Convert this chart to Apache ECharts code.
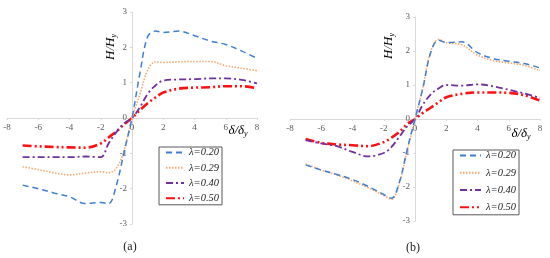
<!DOCTYPE html>
<html>
<head>
<meta charset="utf-8">
<script src="https://cdn.jsdelivr.net/npm/echarts@6/dist/echarts.min.js"></script>
<style>
  html, body { margin: 0; padding: 0; background: #fff; }
  #c1 { width: 550px; height: 258px; }
</style>
</head>
<body>
<div id="c1"></div>
<script>
// displacement ratio (shared by both panels)
var xs = [-7, -6, -5, -4, -3, -2, -1.5, -1, -0.5, 0, 0.5, 1, 1.5, 2, 3, 4, 5, 6, 7, 8];
var names = ["λ=0.20", "λ=0.29", "λ=0.40", "λ=0.50"];
var panelLabels = ["(a)", "(b)"];

// panel (a)
var a020 = [-1.9, -2.0, -2.12, -2.23, -2.42, -2.39, -2.43, -1.9, -0.95, 0, 1.25, 2.3, 2.46, 2.42, 2.46, 2.33, 2.18, 2.08, 1.9, 1.69];
var a029 = [-1.38, -1.46, -1.55, -1.61, -1.56, -1.52, -1.55, -1.42, -0.9, 0, 0.66, 1.35, 1.59, 1.57, 1.59, 1.6, 1.6, 1.48, 1.41, 1.34];
var a040 = [-1.11, -1.11, -1.11, -1.11, -1.09, -1.11, -0.72, -0.4, -0.15, 0, 0.3, 0.68, 0.92, 1.06, 1.09, 1.1, 1.12, 1.12, 1.08, 0.98];
var a050 = [-0.78, -0.8, -0.82, -0.83, -0.84, -0.72, -0.55, -0.38, -0.18, 0, 0.22, 0.42, 0.58, 0.72, 0.83, 0.86, 0.87, 0.9, 0.9, 0.84];

// panel (b)
var b020 = [-1.35, -1.5, -1.63, -1.78, -1.98, -2.22, -2.33, -1.86, -0.9, 0, 0.9, 1.95, 2.32, 2.25, 2.27, 1.95, 1.78, 1.7, 1.63, 1.5];
var b029 = [-1.32, -1.5, -1.65, -1.82, -2.02, -2.25, -2.36, -1.88, -0.92, 0, 0.92, 1.98, 2.34, 2.24, 2.18, 1.88, 1.72, 1.65, 1.58, 1.42];
var b040 = [-0.62, -0.72, -0.8, -0.97, -1.1, -1.0, -0.82, -0.52, -0.22, 0, 0.42, 0.72, 0.9, 1.0, 0.98, 1.02, 0.96, 0.86, 0.75, 0.62];
var b050 = [-0.59, -0.7, -0.75, -0.77, -0.8, -0.68, -0.55, -0.38, -0.15, 0, 0.18, 0.33, 0.49, 0.64, 0.74, 0.78, 0.78, 0.77, 0.7, 0.54];

var colors = ["#3f7fd3", "#f7a86e", "#7030a0", "#ff1010"];
var dashes = [[6, 4], [1.5, 1.5], [7, 3, 2, 3], [9, 3, 2, 3, 2, 3]];
var widths = [1.5, 1.6, 1.8, 2.6];

var myChart = echarts.init(document.getElementById("c1"));

function pairs(ys) {
  var res = [];
  for (var i = 0; i < xs.length; i++) res.push([xs[i], ys[i]]);
  return res;
}

var series = [];
[[a020, a029, a040, a050], [b020, b029, b040, b050]].forEach(function (set, p) {
  set.forEach(function (ys, k) {
    series.push({
      name: names[k],
      type: "line",
      xAxisIndex: p,
      yAxisIndex: p,
      smooth: 0.35,
      symbol: "none",
      data: pairs(ys),
      lineStyle: { color: colors[k], width: widths[k], type: dashes[k] },
      itemStyle: { color: colors[k] },
      z: 5 - k,
    });
  });
});

// grids: [left, right, top, bottom]
var grids = [[7, 293, 12, 34], [290, 10, 17, 37]];

var axisCommon = {
  type: "value",
  splitLine: { show: false },
  axisTick: { show: true, length: 2, lineStyle: { color: "#d9d9d9" } },
};
function lbl() {
  return { fontFamily: "Liberation Serif", fontSize: 9, color: "#595959", margin: 5 };
}

// axes sit at the zero lines, moved there with offset
function xAx(i) {
  var g = grids[i], h = 258 - g[2] - g[3];
  return Object.assign({}, axisCommon, {
    gridIndex: i, min: -8, max: 8, interval: 2, position: "bottom",
    offset: -h / 2,
    axisLine: { onZero: false, lineStyle: { color: "#d9d9d9", width: 1 } },
    axisLabel: lbl(),
  });
}
function yAx(i) {
  var g = grids[i], w = 550 - g[0] - g[1];
  return Object.assign({}, axisCommon, {
    gridIndex: i, min: -3, max: 3, interval: 1, position: "left",
    offset: -w / 2,
    axisLine: { onZero: false, lineStyle: { color: "#d9d9d9", width: 1 } },
    axisLabel: lbl(),
  });
}

var legendText = { fontFamily: "Liberation Serif", fontStyle: "italic", fontSize: 10.5, color: "#222" };
var hiddenSym = { color: "rgba(0,0,0,0)", borderColor: "rgba(0,0,0,0)", borderWidth: 0 };

var richH = {
  i: { fontFamily: "Liberation Serif", fontStyle: "italic", fontSize: 13, color: "#222" },
  s: { fontFamily: "Liberation Serif", fontStyle: "italic", fontSize: 8, color: "#222", padding: [6, 0, 0, 0] },
};
function axName(x, y, text, rot) {
  return {
    type: "text", x: x, y: y, rotation: rot,
    style: { text: text, align: "center", verticalAlign: "middle", rich: richH },
  };
}

var option = {
  animation: false,
  grid: grids.map(function (g) {
    return { left: g[0], right: g[1], top: g[2], bottom: g[3] };
  }),
  xAxis: [xAx(0), xAx(1)],
  yAxis: [yAx(0), yAx(1)],
  legend: [
    {
      orient: "vertical", left: 159, top: 147, itemWidth: 18, itemHeight: 14, itemGap: 4,
      padding: [0, 3, 1, 6], borderColor: "#595959", borderWidth: 1,
      data: names, textStyle: legendText, itemStyle: hiddenSym,
    },
    {
      orient: "vertical", left: 453, top: 150, itemWidth: 21, itemHeight: 14, itemGap: 6,
      padding: [0, 3, 2, 6], borderColor: "#595959", borderWidth: 1,
      data: names, textStyle: legendText, itemStyle: hiddenSym,
    },
  ],
  graphic: [
    axName(111, 47, "{i|H/H}{s|y}", Math.PI / 2),
    axName(389, 46, "{i|H/H}{s|y}", Math.PI / 2),
    axName(238, 131, "{i|δ/δ}{s|y}", 0),
    axName(521, 134, "{i|δ/δ}{s|y}", 0),
    {
      type: "text", x: 130, y: 247,
      style: { text: panelLabels[0], align: "center", verticalAlign: "middle", font: "12px 'Liberation Serif'", fill: "#222" },
    },
    {
      type: "text", x: 413, y: 248,
      style: { text: panelLabels[1], align: "center", verticalAlign: "middle", font: "12px 'Liberation Serif'", fill: "#222" },
    },
  ],
  series: series,
};

myChart.setOption(option);
</script>
</body>
</html>
